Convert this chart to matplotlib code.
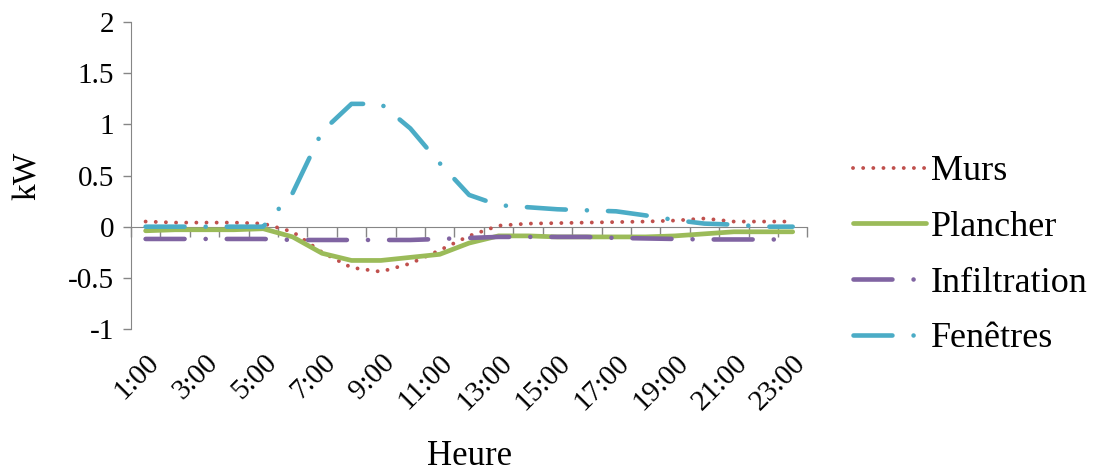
import matplotlib.pyplot as plt
import numpy as np

plt.rcParams['font.family'] = ['Liberation Serif', 'DejaVu Serif']

# data
heures = ['%d:00' % h for h in range(1, 24)]
murs = [0.05, 0.04, 0.04, 0.04, 0.03, -0.05, -0.25, -0.40, -0.44, -0.36, -0.23, -0.09,
        0.01, 0.03, 0.035, 0.04, 0.045, 0.05, 0.06, 0.08, 0.05, 0.05, 0.05]
plancher = [-0.04, -0.03, -0.03, -0.03, -0.02, -0.10, -0.26, -0.33, -0.33, -0.30, -0.27, -0.16,
            -0.09, -0.09, -0.10, -0.10, -0.10, -0.10, -0.09, -0.07, -0.05, -0.05, -0.05]
infiltration = [-0.12, -0.12, -0.12, -0.12, -0.12, -0.13, -0.13, -0.13, -0.13, -0.13, -0.12, -0.11,
                -0.10, -0.10, -0.10, -0.10, -0.11, -0.115, -0.12, -0.125, -0.125, -0.125, -0.125]
fenetres = [0.0, 0.0, 0.0, 0.0, 0.0, 0.33, 0.93, 1.20, 1.20, 0.96, 0.62, 0.31,
            0.21, 0.19, 0.17, 0.16, 0.15, 0.11, 0.065, 0.03, 0.02, 0.0, 0.0]

yticks = [-1, -0.5, 0, 0.5, 1, 1.5, 2]
ylabels = ['-1', '-0.5', '0', '0.5', '1', '1.5', '2']

gris = '#868686'
x = np.arange(len(heures))

fig = plt.figure(figsize=(11, 4.73), dpi=100)
ax = fig.add_axes([0.119, 0.3044, 0.615, 0.6491])

ax.plot(x, murs, color='#C0504D', lw=2.8, dashes=(0.01, 2.6),
        dash_capstyle='round', label='Murs')
ax.plot(x, plancher, color='#9BBB59', lw=3.4, solid_capstyle='round', label='Plancher')
ax.plot(x, infiltration, color='#8064A2', lw=3.3, dashes=(8.5, 4.6, 0.01, 4.6),
        dash_capstyle='round', label='Infiltration')
ax.plot(x, fenetres, color='#4BACC6', lw=3.3, dashes=(8.5, 4.6, 0.01, 4.6),
        dash_capstyle='round', label='Fenêtres')

ax.set_xlim(-0.5, len(heures) - 0.5)
ax.set_ylim(-1, 2)
ax.set_yticks(yticks)
ax.set_yticklabels(ylabels, fontsize=21)
ax.tick_params(axis='y', direction='out', length=6, width=1, color=gris, pad=6)

for s in ['top', 'right']:
    ax.spines[s].set_visible(False)
ax.spines['left'].set_color(gris)
ax.spines['bottom'].set_position(('data', 0))
ax.spines['bottom'].set_color(gris)
ax.spines['bottom'].set_zorder(0)
ax.set_xticks(np.arange(len(heures) + 1) - 0.5)
ax.tick_params(axis='x', direction='out', length=7, width=1, color=gris, labelbottom=False)

# category labels at the bottom of the plot area
sec = ax.secondary_xaxis('bottom')
sec.spines['bottom'].set_visible(False)
sec.set_xticks(x[::2])
sec.set_xticklabels(heures[::2], fontsize=21, rotation=45, ha='right',
                    rotation_mode='anchor')
sec.tick_params(length=0, pad=15)

ax.set_ylabel('kW', fontsize=24, labelpad=18)
fig.text(0.427, 0.035, 'Heure', fontsize=25, ha='center', va='center')

ax.legend(loc='center left', bbox_to_anchor=(1.02, 0.24), frameon=False, fontsize=26,
          handlelength=2.0, handletextpad=0.15, labelspacing=0.62)

fig.savefig('out.png', dpi=100)
